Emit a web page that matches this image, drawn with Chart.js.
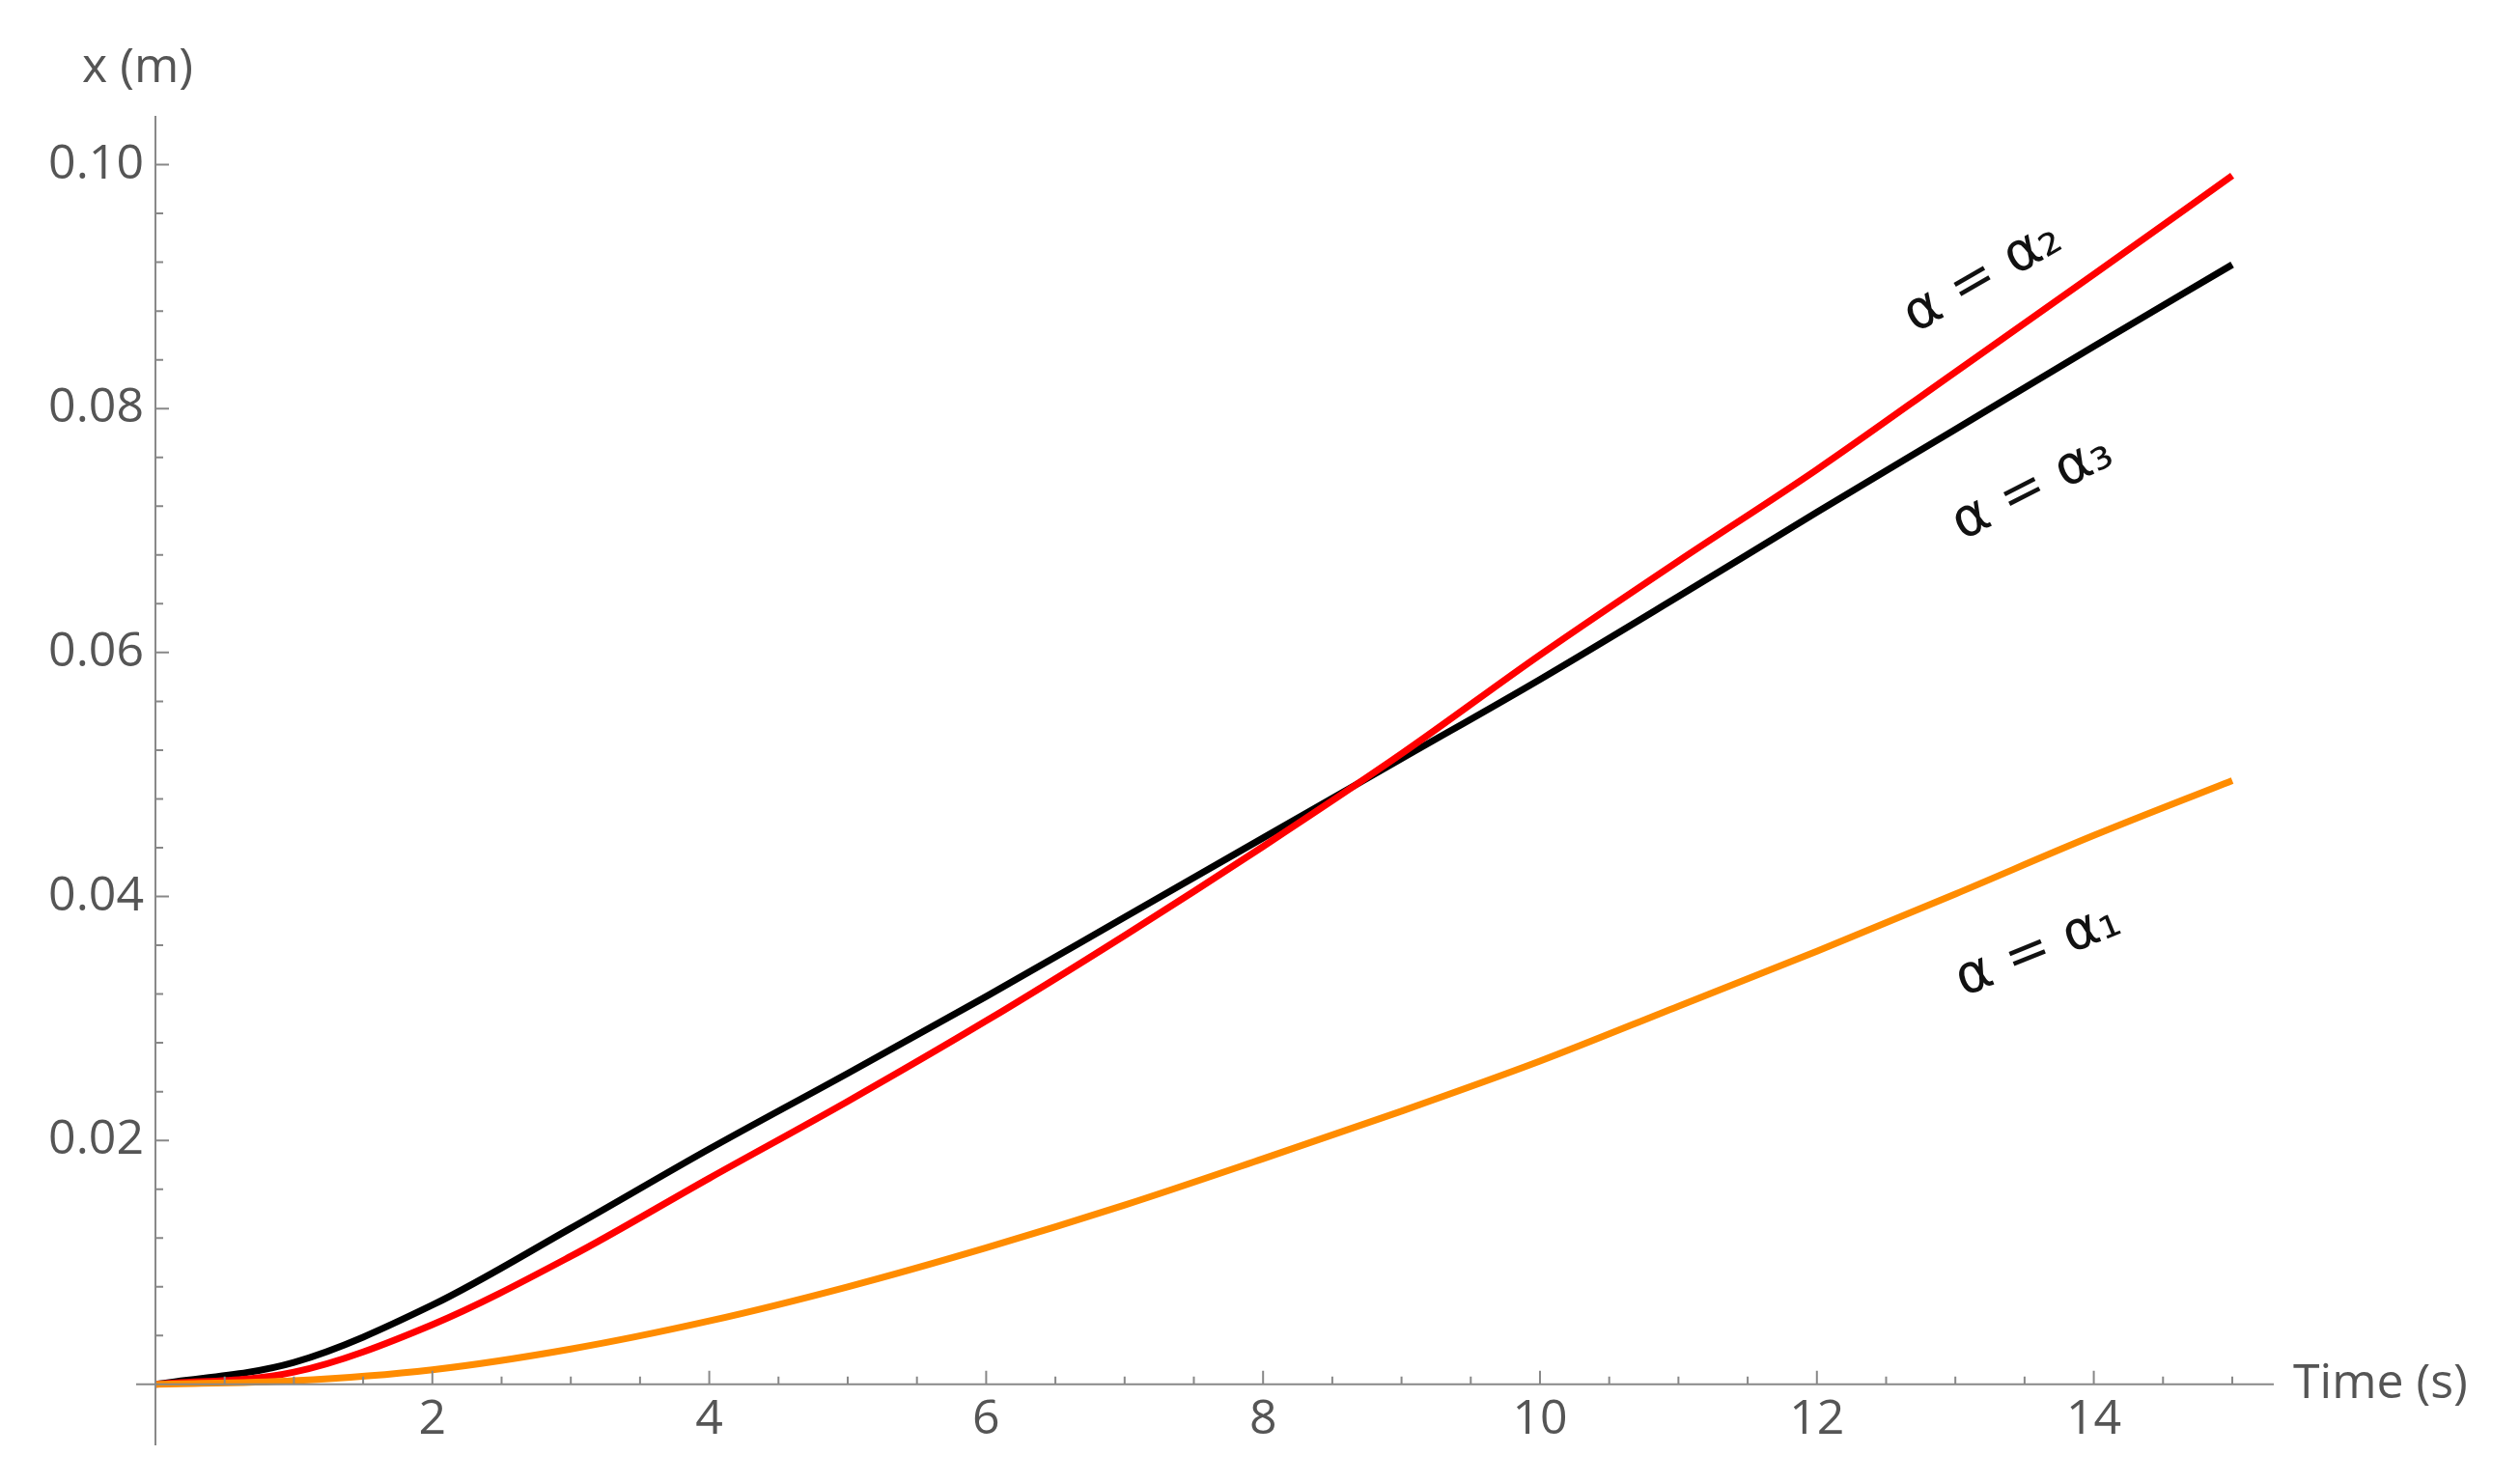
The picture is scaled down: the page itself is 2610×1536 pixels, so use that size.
<!DOCTYPE html>
<html>
<head>
<meta charset="utf-8">
<script src="https://cdn.jsdelivr.net/npm/chart.js@4"></script>
<style>
  html, body { margin: 0; padding: 0; background: #fff; }
  #wrap { width: 2610px; height: 1536px; }
</style>
</head>
<body>
<div id="wrap"><canvas id="xt"></canvas></div>
<script>
const times = [0, 1, 2, 3, 4, 5, 6, 7, 8, 9, 10, 11, 12, 13, 14, 15];
const alpha3 = [0, 0.0018, 0.0065, 0.0128, 0.0193, 0.0255, 0.0318, 0.0383, 0.0448, 0.0513, 0.0578, 0.0646, 0.0715, 0.0783, 0.0851, 0.0918];
const alpha2 = [0, 0.0010, 0.0049, 0.0105, 0.0169, 0.0232, 0.0298, 0.0368, 0.0441, 0.0517, 0.0598, 0.0675, 0.0750, 0.0830, 0.0910, 0.0991];
const alpha1 = [0, 0.0003, 0.0012, 0.0029, 0.0052, 0.0080, 0.0112, 0.0147, 0.0185, 0.0224, 0.0265, 0.0310, 0.0355, 0.0402, 0.0450, 0.0495];
const xTicks = [2, 4, 6, 8, 10, 12, 14];
const yTicks = [0.02, 0.04, 0.06, 0.08, 0.10];
const curveLabels = [
  { text: 'α = α₂', x: 13.2, y: 0.0907, rot: -30 },
  { text: 'α = α₃', x: 13.56, y: 0.0734, rot: -27 },
  { text: 'α = α₁', x: 13.6, y: 0.0355, rot: -22 },
];

const toPts = arr => times.map((t, i) => ({ x: t, y: arr[i] }));
const grey = '#555';

const decor = {
  id: 'decor',
  afterDraw(chart) {
    const { ctx, scales: { x, y } } = chart;
    const x0 = x.getPixelForValue(0), y0 = y.getPixelForValue(0);
    ctx.save();
    ctx.strokeStyle = '#888';
    ctx.lineWidth = 2;
    ctx.beginPath();
    ctx.moveTo(x0, y.top); ctx.lineTo(x0, y.bottom);
    ctx.moveTo(x.left - 20, y0); ctx.lineTo(x.right, y0);
    // major and minor ticks
    for (let v = 0.5; v <= 15; v += 0.5) {
      const px = x.getPixelForValue(v);
      const len = Number.isInteger(v / 2) ? 14 : 8;
      ctx.moveTo(px, y0); ctx.lineTo(px, y0 - len);
    }
    for (let k = 1; k <= 25; k++) {
      const v = k * 0.004;
      const py = y.getPixelForValue(v);
      const len = k % 5 === 0 ? 14 : 8;
      ctx.moveTo(x0, py); ctx.lineTo(x0 + len, py);
    }
    ctx.stroke();

    ctx.fillStyle = grey;
    ctx.font = '50px "Open Sans", sans-serif';
    ctx.textAlign = 'center';
    ctx.textBaseline = 'top';
    xTicks.forEach(v => ctx.fillText(String(v), x.getPixelForValue(v), y0 + 12));
    ctx.textAlign = 'right';
    ctx.textBaseline = 'middle';
    yTicks.forEach(v => ctx.fillText(v.toFixed(2), x0 - 12, y.getPixelForValue(v)));
    ctx.textAlign = 'left';
    ctx.fillText('Time (s)', x.right + 20, y0);
    ctx.textBaseline = 'alphabetic';
    ctx.fillText('x (m)', 85, 85);

    ctx.fillStyle = '#111';
    ctx.font = '56px "DejaVu Sans", sans-serif';
    ctx.textAlign = 'center';
    ctx.textBaseline = 'middle';
    curveLabels.forEach(l => {
      ctx.save();
      ctx.translate(x.getPixelForValue(l.x), y.getPixelForValue(l.y));
      ctx.rotate(l.rot * Math.PI / 180);
      ctx.fillText(l.text, 0, 0);
      ctx.restore();
    });
    ctx.restore();
  },
};

new Chart(document.getElementById('xt'), {
  type: 'line',
  data: {
    datasets: [
      { data: toPts(alpha1), borderColor: '#ff8c00', borderWidth: 7 },
      { data: toPts(alpha2), borderColor: '#ff0000', borderWidth: 7 },
      { data: toPts(alpha3), borderColor: '#000000', borderWidth: 7 },
    ],
  },
  options: {
    responsive: true,
    maintainAspectRatio: false,
    animation: false,
    layout: { padding: { left: 161, right: 255, top: 120, bottom: 39 } },
    elements: { point: { radius: 0 }, line: { tension: 0.4, cubicInterpolationMode: 'monotone' } },
    clip: false,
    plugins: { legend: { display: false }, tooltip: { enabled: false } },
    scales: {
      x: { type: 'linear', min: 0, max: 15.3, display: false },
      y: { type: 'linear', min: -0.005, max: 0.104, display: false },
    },
  },
  plugins: [decor],
});
</script>
</body>
</html>
